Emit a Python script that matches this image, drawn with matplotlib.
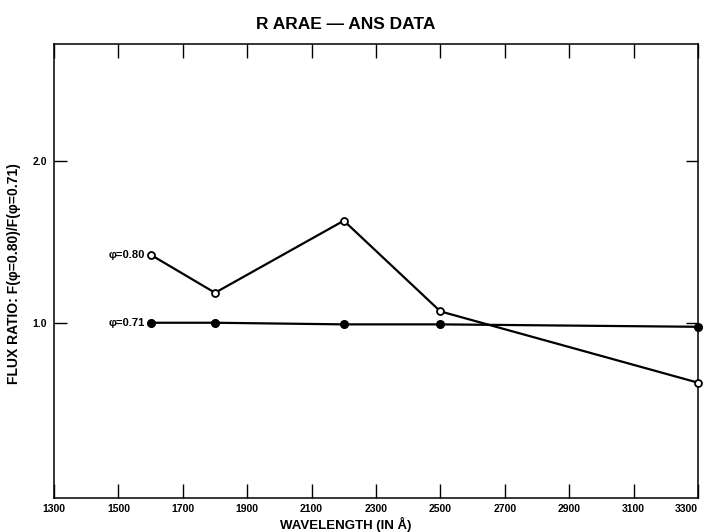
import matplotlib.pyplot as plt

plt.rcParams['font.family'] = ['Liberation Sans Narrow', 'Liberation Sans', 'DejaVu Sans']

# wavelengths (Angstrom) and flux ratios
wave = [1600, 1800, 2200, 2500, 3300]
ratio_080 = [1.42, 1.185, 1.63, 1.07, 0.63]
ratio_071 = [1.00, 1.00, 0.99, 0.99, 0.975]
xticks = [1300, 1500, 1700, 1900, 2100, 2300, 2500, 2700, 2900, 3100, 3300]
yticks = [1.0, 2.0]

fig = plt.figure(figsize=(7.07, 5.32), dpi=100)
ax = fig.add_axes([0.0764, 0.0639, 0.9109, 0.8531])

ax.plot(wave, ratio_080, color='black', lw=1.6, marker='o', ms=5,
        mfc='white', mec='black', mew=1.3, zorder=3, clip_on=False)
ax.plot(wave, ratio_071, color='black', lw=1.6, marker='o', ms=5.5,
        mfc='black', mec='black', zorder=3, clip_on=False)

# curve labels to the left of the first point
ax.text(wave[0] - 18, ratio_080[0], 'φ=0.80', ha='right', va='center',
        fontsize=8, fontweight='bold')
ax.text(wave[0] - 18, ratio_071[0], 'φ=0.71', ha='right', va='center',
        fontsize=8, fontweight='bold')

ax.set_xlim(1300, 3300)
ax.set_ylim(-0.082, 2.72)
ax.set_xticks(xticks)
ax.set_xticklabels([str(t) for t in xticks], fontsize=7.5, fontweight='bold')
ax.get_xticklabels()[-1].set_horizontalalignment('right')
ax.set_yticks(yticks)
ax.set_yticklabels(['1.0', '2.0'], fontsize=7.5, fontweight='bold')
ax.tick_params(axis='x', direction='in', length=10, top=True, width=1, pad=4)
ax.tick_params(axis='y', direction='in', length=9, right=True, width=1, pad=5)
for s in ax.spines.values():
    s.set_linewidth(1.1)

ax.set_title('R ARAE — ANS DATA', fontsize=12.5, fontweight='bold', x=0.453, pad=11)
ax.set_xlabel('WAVELENGTH (IN Å)', fontsize=9.5, fontweight='bold')
ax.xaxis.set_label_coords(0.453, -0.041)
ax.set_ylabel('FLUX RATIO: F(φ=0.80)/F(φ=0.71)', fontsize=10, fontweight='bold')
ax.yaxis.set_label_coords(-0.052, 0.495)

fig.savefig('out.png', dpi=100)
